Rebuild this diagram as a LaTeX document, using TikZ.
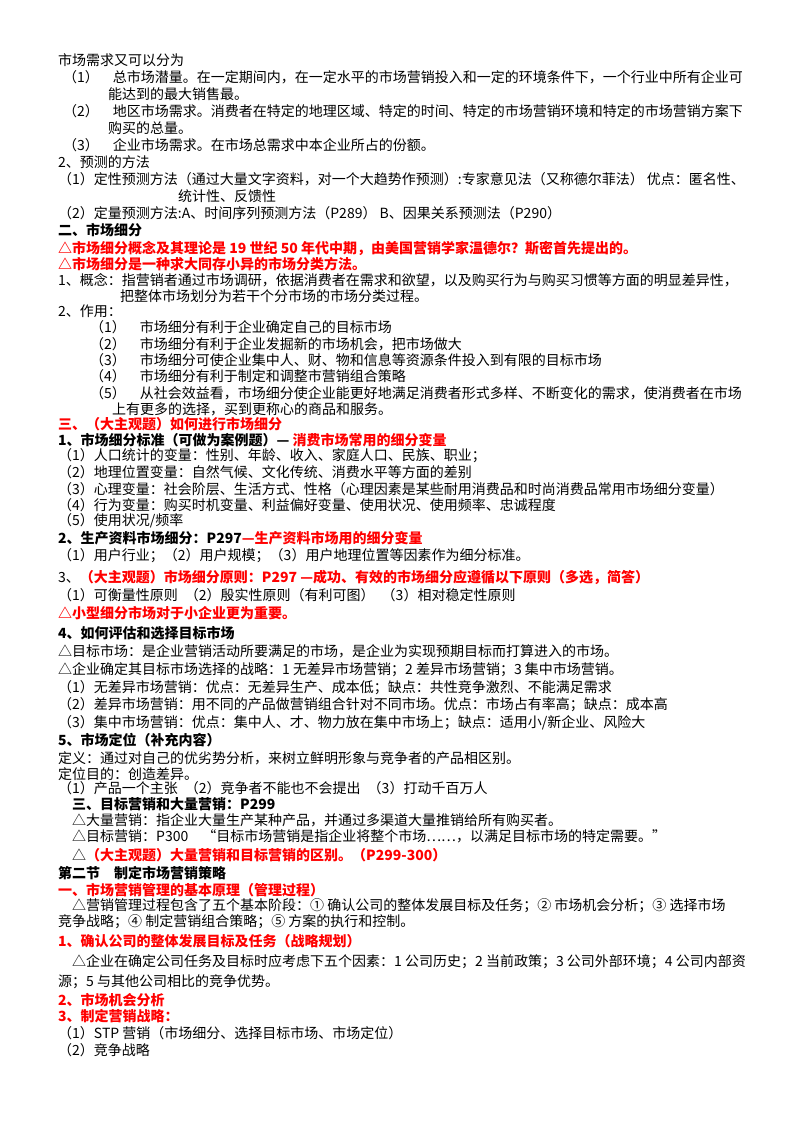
\documentclass[tikz,border=0pt]{standalone}
\usepackage{fontspec}
\setmainfont{Noto Sans CJK SC}
\definecolor{rd}{RGB}{255,0,0}
\begin{document}
\begin{tikzpicture}[x=1pt,y=-1pt,
  t/.style={anchor=west,inner sep=0pt,font=\fontsize{14}{16}\selectfont},
  b/.style={t,font=\fontsize{14}{16}\selectfont\bfseries},
  r/.style={b,text=rd}]
\useasboundingbox (0,0) rectangle (800,1132);
\node[t] (l1) at (58,60) {市场需求又可以分为};
\node[t] (l2) at (63,77) {（1）\quad 总市场潜量。在一定期间内，在一定水平的市场营销投入和一定的环境条件下，一个行业中所有企业可};
\node[t] (l3) at (108,94) {能达到的最大销售最。};
\node[t] (l4) at (63,111) {（2）\quad 地区市场需求。消费者在特定的地理区域、特定的时间、特定的市场营销环境和特定的市场营销方案下};
\node[t] (l5) at (108,128) {购买的总量。};
\node[t] (l6) at (63,145) {（3）\quad 企业市场需求。在市场总需求中本企业所占的份额。};
\node[t] (l7) at (58,162) {2、预测的方法};
\node[t] (l8) at (58,179) {（1）定性预测方法（通过大量文字资料，对一个大趋势作预测）:专家意见法（又称德尔菲法） 优点：匿名性、};
\node[t] (l9) at (178,196) {统计性、反馈性};
\node[t] (l10) at (58,213) {（2）定量预测方法:A、时间序列预测方法（P289） B、因果关系预测法（P290）};
\node[b] (l11) at (58,230) {二、市场细分};
\node[r] (l12) at (58,248) {△市场细分概念及其理论是 19 世纪 50 年代中期，由美国营销学家温德尔？斯密首先提出的。};
\node[r] (l13) at (58,264) {△市场细分是一种求大同存小异的市场分类方法。};
\node[t] (l14) at (58,280) {1、概念：指营销者通过市场调研，依据消费者在需求和欲望，以及购买行为与购买习惯等方面的明显差异性，};
\node[t] (l15) at (120,296) {把整体市场划分为若干个分市场的市场分类过程。};
\node[t] (l16) at (58,311) {2、作用：};
\node[t] (a1) at (90,327) {（1）\quad 市场细分有利于企业确定自己的目标市场};
\node[t] (a2) at (90,344) {（2）\quad 市场细分有利于企业发掘新的市场机会，把市场做大};
\node[t] (a3) at (90,360) {（3）\quad 市场细分可使企业集中人、财、物和信息等资源条件投入到有限的目标市场};
\node[t] (a4) at (90,376) {（4）\quad 市场细分有利于制定和调整市营销组合策略};
\node[t] (a5) at (90,393) {（5）\quad 从社会效益看，市场细分使企业能更好地满足消费者形式多样、不断变化的需求，使消费者在市场};
\node[t] (a6) at (112,409) {上有更多的选择，买到更称心的商品和服务。};
\node[r] (s3) at (58,424) {三、（大主观题）如何进行市场细分};
\node[b] (s31) at (58,440) {1、市场细分标准（可做为案例题）— \textcolor{rd}{消费市场常用的细分变量}};
\node[t] (v1) at (58,456) {（1）人口统计的变量：性别、年龄、收入、家庭人口、民族、职业；};
\node[t] (v2) at (58,472) {（2）地理位置变量：自然气候、文化传统、消费水平等方面的差别};
\node[t] (v3) at (58,489) {（3）心理变量：社会阶层、生活方式、性格（心理因素是某些耐用消费品和时尚消费品常用市场细分变量）};
\node[t] (v4) at (58,505) {（4）行为变量：购买时机变量、利益偏好变量、使用状况、使用频率、忠诚程度};
\node[t] (v5) at (58,521) {（5）使用状况/频率};
\node[b] (s32) at (58,538) {2、生产资料市场细分：P297\textcolor{rd}{---生产资料市场用的细分变量}};
\node[t] (u1) at (58,556) {（1）用户行业；（2）用户规模；（3）用户地理位置等因素作为细分标准。};
\node[r] (s33) at (58,577) {\textcolor{black}{\mdseries 3、}（大主观题）市场细分原则：P297 ---成功、有效的市场细分应遵循以下原则（多选，简答）};
\node[t] (y1) at (58,595) {（1）可衡量性原则\enspace（2）殷实性原则（有利可图）\enspace（3）相对稳定性原则};
\node[r] (y2) at (58,613) {△小型细分市场对于小企业更为重要。};
\node[b] (s34) at (58,633) {4、如何评估和选择目标市场};
\node[t] (m1) at (58,651) {△目标市场：是企业营销活动所要满足的市场，是企业为实现预期目标而打算进入的市场。};
\node[t] (m2) at (58,670) {△企业确定其目标市场选择的战略：1 无差异市场营销；2 差异市场营销；3 集中市场营销。};
\node[t] (m3) at (58,688) {（1）无差异市场营销：优点：无差异生产、成本低；缺点：共性竞争激烈、不能满足需求};
\node[t] (m4) at (58,705) {（2）差异市场营销：用不同的产品做营销组合针对不同市场。优点：市场占有率高；缺点：成本高};
\node[t] (m5) at (58,723) {（3）集中市场营销：优点：集中人、才、物力放在集中市场上；缺点：适用小/新企业、风险大};
\node[b] (s35) at (58,740) {5、市场定位（补充内容）};
\node[t] (d1) at (58,758) {定义：通过对自己的优劣势分析，来树立鲜明形象与竞争者的产品相区别。};
\node[t] (d2) at (58,774) {定位目的：创造差异。};
\node[t] (d3) at (58,788) {（1）产品一个主张\enspace（2）竞争者不能也不会提出\enspace（3）打动千百万人};
\node[b] (s4) at (72,804) {三、目标营销和大量营销：P299};
\node[t] (e1) at (72,820) {△大量营销：指企业大量生产某种产品，并通过多渠道大量推销给所有购买者。};
\node[t] (e2) at (72,836) {△目标营销：P300\quad “目标市场营销是指企业将整个市场……，以满足目标市场的特定需要。”};
\node[r] (e3) at (72,855) {\textcolor{black}{\mdseries △}（大主观题）大量营销和目标营销的区别。（P299-300）};
\node[b] (c2) at (58,873) {第二节\quad 制定市场营销策略};
\node[r] (c21) at (58,890) {一、市场营销管理的基本原理（管理过程）};
\node[t] (f1) at (72,906) {△营销管理过程包含了五个基本阶段：① 确认公司的整体发展目标及任务；② 市场机会分析；③ 选择市场};
\node[t] (f2) at (58,922) {竞争战略；④ 制定营销组合策略；⑤ 方案的执行和控制。};
\node[r] (g1) at (58,941) {1、确认公司的整体发展目标及任务（战略规划）};
\node[t] (g2) at (72,962) {△企业在确定公司任务及目标时应考虑下五个因素：1 公司历史；2 当前政策；3 公司外部环境；4 公司内部资};
\node[t] (g3) at (58,982) {源；5 与其他公司相比的竞争优势。};
\node[r] (h1) at (58,1000) {2、市场机会分析};
\node[r] (h2) at (58,1016) {3、制定营销战略：};
\node[t] (h3) at (58,1033) {（1）STP 营销（市场细分、选择目标市场、市场定位）};
\node[t] (h4) at (58,1050) {（2）竞争战略};
\end{tikzpicture}
\end{document}
